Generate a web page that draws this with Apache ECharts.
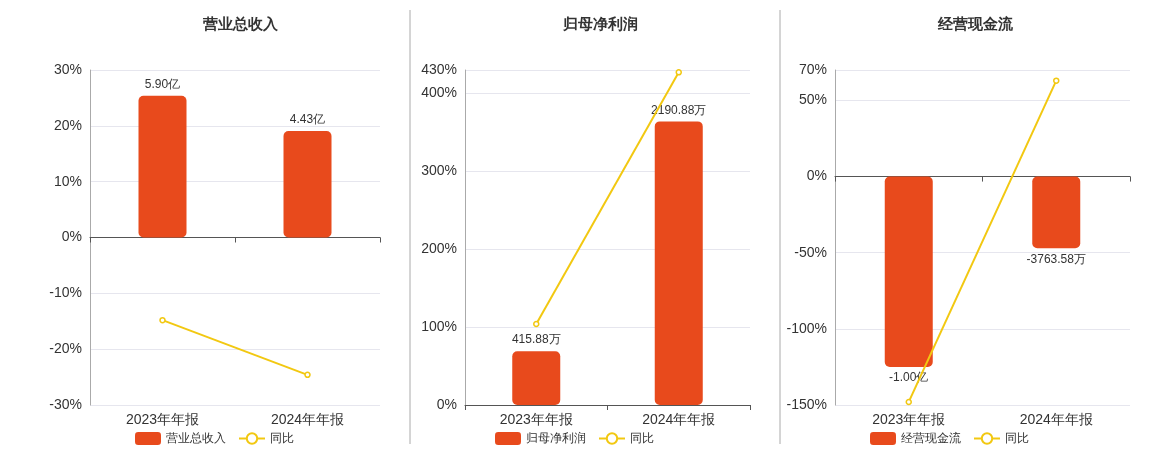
<!DOCTYPE html>
<html><head><meta charset="utf-8">
<script src="https://cdn.jsdelivr.net/npm/echarts@6/dist/echarts.min.js"></script>
<style>body{margin:0}#c{width:1160px;height:450px}</style></head>
<body><div id="c"></div>
<script>
var categories = ['2023年年报', '2024年年报'];
var titles = ['营业总收入', '归母净利润', '经营现金流'];
var revenue = [5.90, 4.43];           // 亿
var revenueLabels = ['5.90亿', '4.43亿'];
var revenueYoy = [-14.8, -24.6];
var profit = [415.88, 2190.88];       // 万
var profitLabels = ['415.88万', '2190.88万'];
var profitYoy = [104, 427];
var cash = [-10000, -3763.58];        // 万
var cashLabels = ['-1.00亿', '-3763.58万'];
var cashYoy = [-148, 63];

var barColor = '#E84A1C', lineColor = '#F2C811';
var grids = [
  {left: 90, width: 290, top: 70, height: 335},
  {left: 465, width: 285, top: 70, height: 335},
  {left: 835, width: 295, top: 70, height: 335}
];
var pctAxes = [
  {min: -30, max: 30, interval: 10},
  {min: 0, max: 430, interval: 100},
  {min: -150, max: 70, interval: 50}
];
var barAxes = [
  {min: -6.97, max: 6.97},
  {min: 0, max: 2588},
  {min: -12000, max: 5600}
];
var bars = [revenue, profit, cash];
var barLabels = [revenueLabels, profitLabels, cashLabels];
var lines = [revenueYoy, profitYoy, cashYoy];

var option = {
  animation: false,
  title: [], grid: grids, xAxis: [], yAxis: [], series: [], legend: [],
  graphic: [
    {type: 'line', shape: {x1: 410, y1: 10, x2: 410, y2: 444}, style: {stroke: '#aaa', lineWidth: 1}},
    {type: 'line', shape: {x1: 780, y1: 10, x2: 780, y2: 444}, style: {stroke: '#aaa', lineWidth: 1}}
  ]
};
var centers = [235, 595, 970];
for (var i = 0; i < 3; i++) {
  option.title.push({text: titles[i], left: centers[i], top: 12, textAlign: 'center',
    textStyle: {fontSize: 15, fontWeight: 'bold', color: '#333'}});
  option.xAxis.push({type: 'category', gridIndex: i, data: categories,
    axisLine: {onZero: true, lineStyle: {color: '#555'}}, axisTick: {show: true, lineStyle: {color: '#555'}},
    axisLabel: {fontSize: 14, color: '#333', margin: 8, formatter: (function (k) { return function (v) { return v; }; })(i)},
    position: 'bottom'});
  option.yAxis.push({type: 'value', gridIndex: i, min: pctAxes[i].min, max: pctAxes[i].max,
    interval: pctAxes[i].interval,
    axisLine: {show: true, lineStyle: {color: '#aaa'}},
    axisLabel: {fontSize: 14, color: '#333', formatter: '{value}%', showMaxLabel: true},
    splitLine: {lineStyle: {color: '#e6e6ee'}}});
  option.yAxis.push({type: 'value', gridIndex: i, min: barAxes[i].min, max: barAxes[i].max,
    show: false, splitLine: {show: false}});
  var lbls = barLabels[i];
  option.series.push({type: 'bar', name: titles[i], xAxisIndex: i, yAxisIndex: i * 2 + 1,
    barWidth: 48, itemStyle: {color: barColor, borderRadius: 5},
    data: bars[i].map(function (v, j) {
      return {value: v, label: {position: v < 0 ? 'bottom' : 'top'}};
    }),
    label: {show: true, fontSize: 12, color: '#333', formatter: (function (l) {
      return function (p) { return l[p.dataIndex]; };
    })(lbls)}});
  option.series.push({type: 'line', name: '同比', xAxisIndex: i, yAxisIndex: i * 2,
    data: lines[i], symbol: 'circle', symbolSize: 5,
    itemStyle: {color: '#fff', borderColor: lineColor, borderWidth: 1.5},
    lineStyle: {color: lineColor, width: 2}});
  option.legend.push({left: centers[i] - 105, top: 427, itemWidth: 26, itemHeight: 13, itemGap: 12,
    textStyle: {fontSize: 12, color: '#333'},
    data: [{name: titles[i], icon: 'roundRect', itemStyle: {color: barColor}},
           {name: '同比', itemStyle: {color: '#fff', borderColor: lineColor}}]});
}
// fix: one legend per grid only shows its own series names
var chart = echarts.init(document.getElementById('c'));
chart.setOption(option);
</script></body></html>
